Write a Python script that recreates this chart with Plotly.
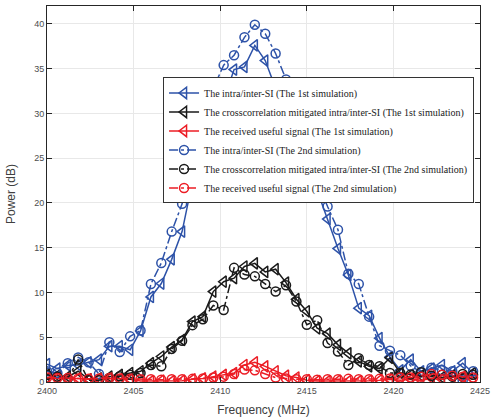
import plotly.graph_objects as go

freq = [2400 + 0.6 * k for k in range(42)]

si_1st = [2.0, 1.5, 1.85, 1.9, 2.2, 2.5, 4.0, 4.0, 3.6, 5.7,
          9.5, 11.0, 13.7, 16.8, 22.4, 25.5, 28.5, 31.5, 34.9, 35.2,
          37.6, 35.9, 32.8, 31.5, 28.0, 24.5, 21.4, 18.2, 14.9, 11.95,
          8.25, 7.4, 4.9, 2.8, 1.3, 2.5, 1.2, 1.5, 1.9, 1.2,
          2.1, 1.0]
mit_1st = [0.8, 0.7, 0.6, 1.2, 0.3, 0.4, 0.6, 0.8, 1.0, 1.2,
           2.1, 2.85, 3.9, 4.7, 6.75, 7.3, 10.1, 11.2, 11.6, 12.9,
           13.25, 12.3, 12.6, 11.1, 9.25, 7.9, 6.0, 5.4, 4.15, 3.2,
           2.3, 1.75, 1.5, 2.7, 1.0, 0.8, 0.7, 0.6, 0.5, 0.7,
           0.4, 1.0]
useful_1st = [0.4, 0.4, 0.35, 0.4, 0.3, 0.35, 0.4, 0.35, 0.3, 0.1,
              0.1, 0.15, 0.1, 0.15, 0.3, 0.4, 0.6, 0.8, 1.0, 1.9,
              2.2, 1.75, 1.2, 0.7, 0.5, 0.2, 0.1, 0.1, 0.15, 0.1,
              0.1, 0.15, 0.2, 0.3, 0.2, 0.3, 0.2, 0.4, 0.3, 0.5,
              0.6, 0.3]
si_2nd = [1.2, 1.0, 2.1, 2.75, 2.2, 0.9, 4.45, 3.35, 5.1, 5.75,
          10.95, 13.3, 16.8, 19.9, 24.0, 28.5, 32.8, 35.4, 36.5, 38.5,
          39.9, 38.9, 36.7, 33.8, 32.5, 27.0, 22.4, 19.6, 17.0, 12.1,
          10.95, 7.3, 4.05, 3.5, 3.0, 1.8, 1.1, 1.6, 1.3, 1.2,
          0.2, 1.2]
mit_2nd = [0.8, 0.6, 0.4, 2.5, 0.2, 0.2, 0.45, 0.65, 0.8, 1.0,
           1.9, 1.75, 3.7, 4.6, 6.35, 7.0, 8.55, 8.05, 12.75, 12.0,
           11.8, 10.95, 10.1, 10.8, 9.0, 6.4, 6.9, 4.35, 3.4, 1.9,
           2.65, 1.9, 1.75, 1.0, 1.0, 0.85, 1.1, 0.7, 0.8, 0.6,
           0.9, 0.8]
useful_2nd = [0.5, 0.45, 0.45, 0.4, 0.35, 0.4, 0.45, 0.4, 0.35, 0.3,
              0.3, 0.25, 0.3, 0.3, 0.35, 0.4, 0.5, 0.6, 0.9, 1.4,
              1.3, 0.9, 0.5, 0.4, 0.3, 0.3, 0.25, 0.3, 0.3, 0.35,
              0.3, 0.3, 0.35, 0.4, 0.5, 0.5, 0.6, 0.9, 0.8, 0.7,
              0.6, 0.5]

x_ticks = [2400, 2405, 2410, 2415, 2420, 2425]
y_ticks = [0, 5, 10, 15, 20, 25, 30, 35, 40]

names = [
    "The intra/inter-SI (The 1st simulation)",
    "The crosscorrelation mitigated intra/inter-SI (The 1st simulation)",
    "The received useful signal (The 1st simulation)",
    "The intra/inter-SI (The 2nd simulation)",
    "The crosscorrelation mitigated intra/inter-SI (The 2nd simulation)",
    "The received useful signal (The 2nd simulation)",
]

BLUE = "#2d52a8"
BLACK = "#1a1a1a"
RED = "#ec1c24"

series = [
    (si_1st, BLUE, "solid", "triangle-left-open", 10),
    (mit_1st, BLACK, "solid", "triangle-left-open", 10),
    (useful_1st, RED, "solid", "triangle-left-open", 10),
    (si_2nd, BLUE, "dashdot", "circle-open", 9),
    (mit_2nd, BLACK, "dashdot", "circle-open", 9),
    (useful_2nd, RED, "dashdot", "circle-open", 9),
]

fig = go.Figure()
for name, (vals, col, dash, sym, sz) in zip(names, series):
    fig.add_trace(go.Scatter(
        x=freq, y=vals, name=name, mode="lines+markers",
        line=dict(color=col, width=1.5, dash=dash),
        marker=dict(symbol=sym, size=sz, color=col, line=dict(width=1.5, color=col)),
    ))

axis_common = dict(
    showline=True, linecolor="#262626", linewidth=1, mirror="ticks",
    ticks="inside", ticklen=5, tickcolor="#262626",
    showgrid=True, gridcolor="#e8e8e8", gridwidth=1, zeroline=False,
    automargin=False,
    tickfont=dict(family="Liberation Sans, Arial", size=9, color="#4d4d4d"),
)

fig.update_layout(
    width=500, height=417,
    margin=dict(l=47, r=20, t=6, b=35),
    paper_bgcolor="white", plot_bgcolor="white",
    xaxis=dict(range=[2400, 2425], tickvals=x_ticks,
               title=dict(text="Frequency (MHz)",
                          font=dict(family="Liberation Sans, Arial", size=12, color="#404040")),
               **axis_common),
    yaxis=dict(range=[0, 42], tickvals=y_ticks,
               title=dict(text="Power (dB)",
                          font=dict(family="Liberation Sans, Arial", size=12, color="#404040")),
               **axis_common),
    legend=dict(
        x=0.268, y=0.81, xanchor="left", yanchor="top",
        bgcolor="white", bordercolor="#333333", borderwidth=1,
        font=dict(family="Liberation Serif, Times New Roman", size=10, color="#1a1a1a"),
        tracegroupgap=0, itemwidth=30,
    ),
    showlegend=True,
)

fig.write_html("out.html", config={"displayModeBar": False},
               post_script="document.body.style.margin='0';document.body.style.overflow='hidden';")
